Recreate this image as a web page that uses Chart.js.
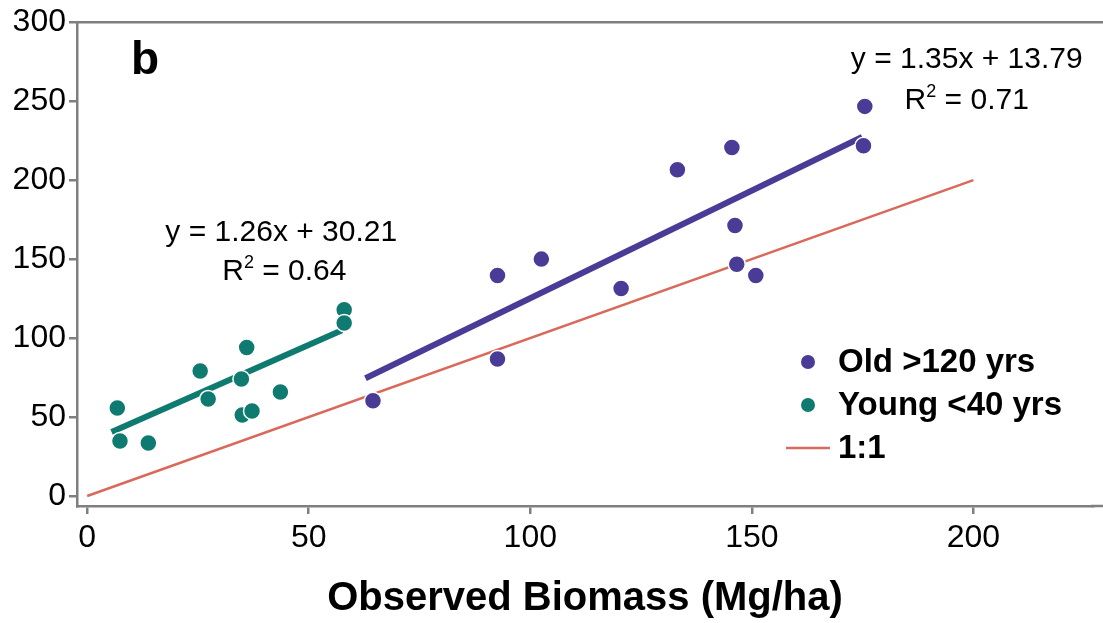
<!DOCTYPE html>
<html>
<head>
<meta charset="utf-8">
<script src="https://cdn.jsdelivr.net/npm/chart.js@4.4.1/dist/chart.umd.min.js"></script>
<style>
  html, body { margin: 0; padding: 0; background: #fff; }
  #wrap { width: 1103px; height: 623px; position: relative; }
</style>
</head>
<body>
<div id="wrap"><canvas id="biomassChart"></canvas></div>
<script>
// observed vs predicted biomass
const youngObserved = [6.8, 7.4, 13.8, 25.5, 27.3, 34.8, 36.0, 35.0, 37.2, 43.6, 58.0, 58.0];
const youngPredicted = [55.8, 34.9, 33.6, 79.2, 61.5, 74.1, 94.0, 51.3, 53.9, 65.9, 117.9, 109.6];

const oldObserved = [64.5, 92.6, 92.6, 102.5, 120.5, 133.2, 145.5, 146.2, 146.6, 150.9, 175.5, 175.2];
const oldPredicted = [60.4, 86.8, 139.6, 150.0, 131.4, 206.6, 220.7, 171.3, 146.8, 139.6, 246.7, 221.8];

// fitted lines as drawn (end points)
const youngFitX = [5.5, 57.5];
const youngFitY = [40.5, 105.0];
const oldFitX = [62.8, 174.9];
const oldFitY = [74.6, 227.3];
const oneToOneX = [0, 200];
const oneToOneY = [0, 200];

const xTicks = [0, 50, 100, 150, 200];
const yTicks = [0, 50, 100, 150, 200, 250, 300];

const PURPLE = '#4a3b96';
const TEAL = '#0f7a70';
const RED = '#d96a5b';
const AXIS = '#7f7f7f';
const FONT = '"Liberation Sans", Arial, sans-serif';

const toPoints = (xs, ys) => xs.map((x, i) => ({ x, y: ys[i] }));

// equations near each fit
const annotations = [
  { x: 43.8, y: 166.5, text: 'y = 1.26x + 30.21' },
  { x: 44.5, y: 142, r2: '0.64' },
  { x: 198.5, y: 276.5, text: 'y = 1.35x + 13.79' },
  { x: 198.5, y: 250, r2: '0.71' },
];

const textPlugin = {
  id: 'extraText',
  afterDraw(chart) {
    const { ctx, scales, chartArea } = chart;
    const xs = scales.x, ys = scales.y;
    ctx.save();

    // frame: top line, and stretch the bottom axis to the edge
    ctx.strokeStyle = AXIS;
    ctx.lineWidth = 2.5;
    ctx.beginPath();
    ctx.moveTo(chartArea.left, chartArea.top);
    ctx.lineTo(1103, chartArea.top);
    ctx.moveTo(chartArea.right - 2, chartArea.bottom);
    ctx.lineTo(1103, chartArea.bottom);
    ctx.stroke();

    // panel letter
    ctx.fillStyle = '#000';
    ctx.font = 'bold 46px ' + FONT;
    ctx.textAlign = 'center';
    ctx.textBaseline = 'middle';
    ctx.fillText('b', 145, 61);

    const big = '30px ' + FONT, small = '18px ' + FONT;
    ctx.font = big;
    annotations.forEach(a => {
      const px = xs.getPixelForValue(a.x);
      const py = ys.getPixelForValue(a.y);
      if (a.text) {
        ctx.textAlign = 'center';
        ctx.fillText(a.text, px, py);
      } else {
        // R² with small superscript
        const rest = ' = ' + a.r2;
        const wR = ctx.measureText('R').width;
        ctx.font = small;
        const w2 = ctx.measureText('2').width;
        ctx.font = big;
        const wRest = ctx.measureText(rest).width;
        const sx = px - (wR + w2 + wRest) / 2;
        ctx.textAlign = 'left';
        ctx.fillText('R', sx, py);
        ctx.font = small;
        ctx.fillText('2', sx + wR, py - 9);
        ctx.font = big;
        ctx.fillText(rest, sx + wR + w2, py);
      }
    });

    // legend inside the plot
    const items = chart.data.datasets.filter(d => d.legendKind);
    const lx = 808, textX = 838;
    let ly = 362;
    ctx.font = 'bold 33px ' + FONT;
    ctx.textAlign = 'left';
    items.forEach(d => {
      if (d.legendKind === 'dot') {
        ctx.fillStyle = d.backgroundColor;
        ctx.beginPath();
        ctx.arc(lx, ly, 7, 0, Math.PI * 2);
        ctx.fill();
      } else {
        ctx.strokeStyle = d.borderColor;
        ctx.lineWidth = 2.5;
        ctx.beginPath();
        ctx.moveTo(786, ly);
        ctx.lineTo(830, ly);
        ctx.stroke();
      }
      ctx.fillStyle = '#000';
      ctx.fillText(d.label, textX, ly + 1);
      ly += 43;
    });
    ctx.restore();
  }
};

const onlyNice = list => scale => {
  scale.ticks = list.map(v => ({ value: v }));
};

const ctx = document.getElementById('biomassChart').getContext('2d');
new Chart(ctx, {
  type: 'scatter',
  data: {
    datasets: [
      {
        label: 'Old >120 yrs',
        legendKind: 'dot',
        data: toPoints(oldObserved, oldPredicted),
        backgroundColor: PURPLE,
        borderColor: '#fff',
        borderWidth: 1.5,
        pointRadius: 8.5,
      },
      {
        label: 'Young <40 yrs',
        legendKind: 'dot',
        data: toPoints(youngObserved, youngPredicted),
        backgroundColor: TEAL,
        borderColor: '#fff',
        borderWidth: 1.5,
        pointRadius: 8.5,
      },
      {
        label: 'Old fit',
        type: 'line',
        data: toPoints(oldFitX, oldFitY),
        borderColor: PURPLE,
        borderWidth: 6,
        pointRadius: 0,
        borderCapStyle: 'butt',
      },
      {
        label: 'Young fit',
        type: 'line',
        data: toPoints(youngFitX, youngFitY),
        borderColor: TEAL,
        borderWidth: 6,
        pointRadius: 0,
        borderCapStyle: 'butt',
      },
      {
        label: '1:1',
        legendKind: 'line',
        type: 'line',
        data: toPoints(oneToOneX, oneToOneY),
        borderColor: RED,
        borderWidth: 2.5,
        pointRadius: 0,
      },
    ],
  },
  options: {
    responsive: true,
    maintainAspectRatio: false,
    animation: false,
    layout: { padding: { top: 22, right: 0, left: 0, bottom: 0 } },
    plugins: {
      legend: { display: false },
      tooltip: { enabled: false },
    },
    scales: {
      x: {
        type: 'linear',
        min: -2.3,
        max: 227,
        afterBuildTicks: onlyNice(xTicks),
        afterFit: s => { s.height = 117; },
        grid: { drawOnChartArea: false, drawTicks: true, tickLength: 8, color: AXIS, lineWidth: 2.5 },
        border: { color: AXIS, width: 2.5 },
        ticks: {
          color: '#000',
          padding: 5,
          maxRotation: 0,
          font: { family: FONT, size: 32 },
        },
        title: {
          display: true,
          text: 'Observed Biomass (Mg/ha)',
          color: '#000',
          padding: { top: 0, bottom: 0, left: 12 },
          font: { family: FONT, size: 40, weight: 'bold' },
        },
      },
      y: {
        type: 'linear',
        min: -6.3,
        max: 300,
        afterBuildTicks: onlyNice(yTicks),
        afterFit: s => { s.width = 77; },
        grid: { drawOnChartArea: false, drawTicks: true, tickLength: 8, color: AXIS, lineWidth: 2.5 },
        border: { color: AXIS, width: 2.5 },
        ticks: {
          color: '#000',
          padding: 3,
          font: { family: FONT, size: 32 },
        },
      },
    },
  },
  plugins: [textPlugin],
});
</script>
</body>
</html>
